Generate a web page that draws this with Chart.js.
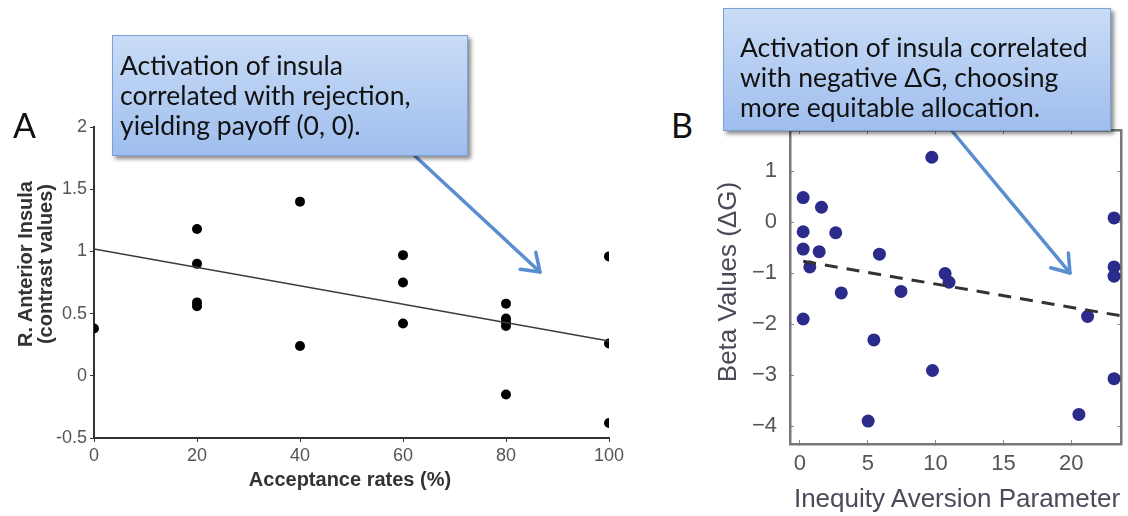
<!DOCTYPE html>
<html>
<head>
<meta charset="utf-8">
<title>Insula activation</title>
<script src="https://cdn.jsdelivr.net/npm/chart.js@4.4.0/dist/chart.umd.min.js"></script>
<style>
  html, body { margin: 0; padding: 0; background: #fff; }
  #page { position: relative; width: 1128px; height: 516px; overflow: hidden; background: #fff; }
  canvas { position: absolute; }
  #chartA { left: 0; top: 100px; }
  #chartB { left: 700px; top: 100px; }
  .lbl { position: absolute; white-space: nowrap; font-family: 'Liberation Sans', Arial, sans-serif; }
  .rot { transform: translate(-50%, -50%) rotate(-90deg); text-align: center; }
  .callout {
    position: absolute; box-sizing: border-box;
    background: linear-gradient(#c9dcf6, #9fbeee);
    border: 1px solid #7ba1d6;
    box-shadow: 3px 3px 4px rgba(0, 0, 0, 0.45);
    font-family: Lato, 'Open Sans', sans-serif; font-size: 26.5px; line-height: 30px; color: #111;
    white-space: nowrap;
  }
  .panel { position: absolute; font-family: Lato, sans-serif; font-size: 34px; color: #111; line-height: 1; }
  svg { position: absolute; left: 0; top: 0; }
</style>
</head>
<body>
<div id="page">
  <canvas id="chartA" width="640" height="416"></canvas>
  <canvas id="chartB" width="428" height="416"></canvas>

  <div class="panel" style="left:13px; top:108px;">A</div>
  <div class="panel" style="left:671px; top:108px;">B</div>

  <div class="lbl" style="left:350px; top:479px; transform:translate(-50%,-50%); font-weight:bold; font-size:20px; color:#333;">Acceptance rates (%)</div>
  <div class="lbl rot" style="left:35px; top:264px; font-weight:bold; font-size:20px; line-height:20px; color:#333;">R. Anterior Insula<br>(contrast values)</div>
  <div class="lbl" style="left:957px; top:498px; transform:translate(-50%,-50%); font-size:26px; color:#4a4a58;">Inequity Aversion Parameter</div>
  <div class="lbl rot" style="left:727px; top:282px; font-size:26px; color:#4a4a58;">Beta Values (ΔG)</div>

  <svg width="1128" height="516" viewBox="0 0 1128 516">
    <g fill="none" stroke="#5a8ed0" stroke-width="3.5" stroke-linecap="round" stroke-linejoin="round">
      <line x1="415" y1="156" x2="540" y2="272"/>
      <polyline points="535.8,252.4 540,272 520.2,269.3"/>
      <line x1="952" y1="131" x2="1070" y2="273"/>
      <polyline points="1068.4,253.1 1070,273 1050.7,267.7"/>
    </g>
  </svg>

  <div class="callout" style="left:112px; top:35px; width:356px; height:121px; padding:14px 0 0 7px;">
    Activation of insula<br>correlated with rejection,<br>yielding payoff (0, 0).
  </div>
  <div class="callout" style="left:723px; top:8px; width:388px; height:123px; padding:23px 0 0 16px;">
    Activation of insula correlated<br>with negative ΔG, choosing<br>more equitable allocation.
  </div>
</div>

<script>
// panel A: acceptance rate vs. right anterior insula
const acceptA = [0, 20, 20, 20, 20, 40, 40, 60, 60, 60, 80, 80, 80, 80, 80, 100, 100, 100];
const insulaA = [0.38, 1.18, 0.90, 0.59, 0.56, 1.40, 0.24, 0.97, 0.75, 0.42, 0.58, 0.46, 0.43, 0.40, -0.15, 0.96, 0.26, -0.38];
const fitAx = [0, 100];
const fitAy = [1.02, 0.28];
const xTicksA = [0, 20, 40, 60, 80, 100];
const yTicksA = [-0.5, 0, 0.5, 1, 1.5, 2];

// panel B: inequity aversion vs. beta values
const aversionB = [0.24, 1.59, 0.24, 2.64, 0.24, 1.42, 0.73, 5.86, 3.05, 0.24, 9.72, 10.7, 10.99, 7.45, 5.45, 9.77, 5.03, 21.2, 20.56, 23.15, 23.15, 23.15, 23.15];
const betaB = [0.48, 0.29, -0.19, -0.21, -0.53, -0.58, -0.88, -0.63, -1.39, -1.90, 1.27, -1.01, -1.18, -1.36, -2.31, -2.91, -3.90, -1.85, -3.77, 0.08, -0.88, -1.06, -3.07];
const fitBx = [0.24, 23.7];
const fitBy = [-0.77, -1.84];
const xTicksB = [0, 5, 10, 15, 20];
const yTicksB = [-4, -3, -2, -1, 0, 1];

const pts = (xs, ys) => xs.map((x, i) => ({ x, y: ys[i] }));
const fixTicks = vals => scale => { scale.ticks = vals.map(v => ({ value: v })); };
const tickFont = size => ({ family: 'Liberation Sans', size });

new Chart(document.getElementById('chartA'), {
  type: 'scatter',
  data: {
    datasets: [
      { data: pts(fitAx, fitAy), showLine: true, borderColor: '#3a3a3a', borderWidth: 1.5, pointRadius: 0, order: 0 },
      { data: pts(acceptA, insulaA), pointRadius: 5, pointBackgroundColor: '#000', pointBorderWidth: 0, order: 1 }
    ]
  },
  options: {
    responsive: false, animation: false, devicePixelRatio: 1,
    layout: { padding: { top: 27, right: 31, left: 0, bottom: 0 } },
    plugins: { legend: { display: false }, tooltip: { enabled: false } },
    scales: {
      x: {
        type: 'linear', min: 0, max: 100,
        afterBuildTicks: fixTicks(xTicksA), afterFit: s => { s.height = 78; },
        border: { color: '#333', width: 2 },
        grid: { drawOnChartArea: false, tickLength: 4, color: '#333' },
        ticks: { color: '#555', font: tickFont(18), padding: 3, callback: v => String(v) }
      },
      y: {
        type: 'linear', min: -0.5, max: 2,
        afterBuildTicks: fixTicks(yTicksA), afterFit: s => { s.width = 94; },
        border: { color: '#333', width: 2 },
        grid: { drawOnChartArea: false, tickLength: 4, color: '#333' },
        ticks: { color: '#555', font: tickFont(18), padding: 3, callback: v => String(v) }
      }
    }
  }
});

// matlab-style box: inward ticks on all four sides
const boxAxis = (position, min, max, vals, extra) => Object.assign({
  type: 'linear', position, min, max,
  afterBuildTicks: fixTicks(vals),
  border: { color: '#777', width: 2.5 },
  grid: { drawOnChartArea: false, tickLength: -4, color: '#888' }
}, extra);

new Chart(document.getElementById('chartB'), {
  type: 'scatter',
  data: {
    datasets: [
      { data: pts(fitBx, fitBy), showLine: true, borderColor: '#333', borderWidth: 3, borderDash: [13, 9], pointRadius: 0, order: 0 },
      { data: pts(aversionB, betaB), pointRadius: 6.5, pointBackgroundColor: '#2b2b8c', pointBorderWidth: 0, order: 1 }
    ]
  },
  options: {
    responsive: false, animation: false, devicePixelRatio: 1,
    layout: { padding: { top: 25, right: 5, left: 0, bottom: 0 } },
    plugins: { legend: { display: false }, tooltip: { enabled: false } },
    scales: {
      x: boxAxis('bottom', -0.73, 23.7, xTicksB, {
        afterFit: s => { s.height = 72; },
        ticks: { color: '#555', font: tickFont(22), padding: 11, callback: v => String(v) }
      }),
      y: boxAxis('left', -4.35, 1.8, yTicksB, {
        afterFit: s => { s.width = 90; },
        ticks: { color: '#555', font: tickFont(22), padding: 17, callback: v => String(v).replace('-', '\u2212') }
      }),
      x2: boxAxis('top', -0.73, 23.7, xTicksB, { afterFit: s => { s.height = 0; }, ticks: { display: false } }),
      y2: boxAxis('right', -4.35, 1.8, yTicksB, { afterFit: s => { s.width = 0; }, ticks: { display: false } })
    }
  }
});
</script>
</body>
</html>
